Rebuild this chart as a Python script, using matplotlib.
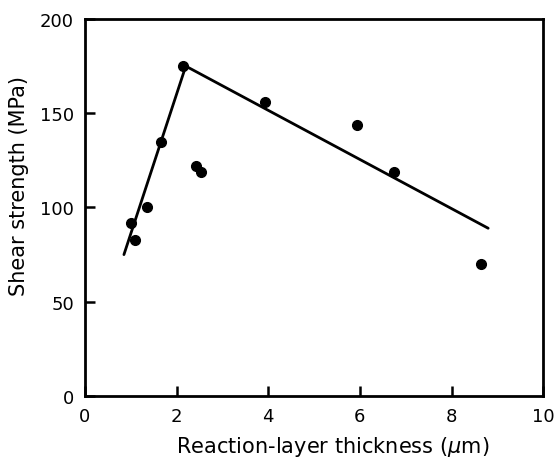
import matplotlib.pyplot as plt
import numpy as np

plt.rcParams['font.family'] = ['DejaVu Sans']
plt.rcParams['mathtext.fontset'] = 'dejavusans'

# Data
thickness = [1.0, 1.1, 1.35, 1.65, 2.15, 2.43, 2.53, 3.93, 5.93, 6.75, 8.65]
strength = [92, 83, 100, 135, 175, 122, 119, 156, 144, 119, 70]

# fitted line (two segments)
fit_x = [0.85, 2.2, 8.8]
fit_y = [75, 175, 89]

xticks = [0, 2, 4, 6, 8, 10]
yticks = [0, 50, 100, 150, 200]

fig = plt.figure(figsize=(5.54, 4.6), dpi=100)
ax = fig.add_axes([0.1534, 0.137, 0.827, 0.8195])

ax.plot(fit_x, fit_y, color='black', lw=2.0, solid_capstyle='round')
ax.plot(thickness, strength, 'o', color='black', ms=7)

ax.set_xlim(0, 10)
ax.set_ylim(0, 200)
ax.set_xticks(xticks)
ax.set_yticks(yticks)

for s in ax.spines.values():
    s.set_linewidth(2.0)

ax.tick_params(direction='in', length=7, width=1.8, labelsize=13, pad=8)
ax.set_xlabel('Reaction-layer thickness ($\\mu$m)', fontsize=15)
ax.set_ylabel('Shear strength (MPa)', fontsize=15)
ax.xaxis.set_label_coords(0.54, -0.10)
ax.yaxis.set_label_coords(-0.122, 0.56)

fig.savefig('out.png', dpi=100)
